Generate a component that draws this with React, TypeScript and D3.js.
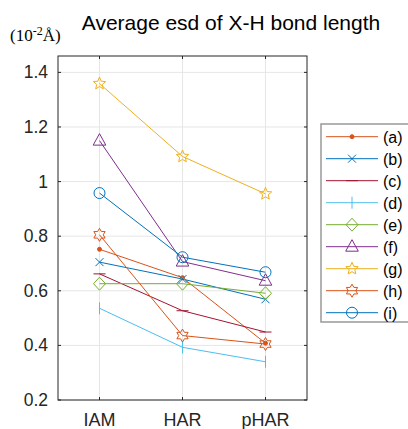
import React, { useRef, useEffect } from 'react';
import * as d3 from 'd3';

const methods = ['IAM', 'HAR', 'pHAR'];
const seriesNames = ['(a)', '(b)', '(c)', '(d)', '(e)', '(f)', '(g)', '(h)', '(i)'];
const seriesA = [0.752, 0.648, 0.408];
const seriesB = [0.705, 0.643, 0.569];
const seriesC = [0.662, 0.527, 0.449];
const seriesD = [0.536, 0.393, 0.340];
const seriesE = [0.626, 0.626, 0.591];
const seriesF = [1.150, 0.707, 0.637];
const seriesG = [1.359, 1.092, 0.955];
const seriesH = [0.805, 0.436, 0.405];
const seriesI = [0.958, 0.723, 0.668];
const yTicks = [0.2, 0.4, 0.6, 0.8, 1, 1.2, 1.4];

const allSeries = [seriesA, seriesB, seriesC, seriesD, seriesE, seriesF, seriesG, seriesH, seriesI];
const colors = ['#D95319', '#0072BD', '#A2142F', '#4DBEEE', '#77AC30', '#7E2F8E', '#EDB120', '#D95319', '#0072BD'];
const markers = ['dot', 'x', 'hline', 'vline', 'diamond', 'triangle', 'pentagram', 'hexagram', 'circle'];

// marker outline centred on 0,0
function markerPath(type: string): string {
  const p = d3.path();
  if (type === 'circle') {
    p.moveTo(5.5, 0);
    p.arc(0, 0, 5.5, 0, Math.PI * 2);
  } else if (type === 'dot') {
    p.moveTo(2, 0);
    p.arc(0, 0, 2, 0, Math.PI * 2);
  } else if (type === 'x') {
    p.moveTo(-4, -4); p.lineTo(4, 4);
    p.moveTo(-4, 4); p.lineTo(4, -4);
  } else if (type === 'hline') {
    p.moveTo(-6, 0); p.lineTo(6, 0);
  } else if (type === 'vline') {
    p.moveTo(0, -6); p.lineTo(0, 6);
  } else if (type === 'diamond') {
    p.moveTo(0, -6.5); p.lineTo(6, 0); p.lineTo(0, 6.5); p.lineTo(-6, 0); p.closePath();
  } else if (type === 'triangle') {
    p.moveTo(0, -7); p.lineTo(6.3, 4.5); p.lineTo(-6.3, 4.5); p.closePath();
  } else {
    const n = type === 'pentagram' ? 5 : 6;
    const ro = 6.5;
    const ri = n === 5 ? ro * 0.45 : ro * 0.58;
    for (let k = 0; k < n * 2; k++) {
      const r = k % 2 === 0 ? ro : ri;
      const a = -Math.PI / 2 + (k * Math.PI) / n;
      if (k === 0) p.moveTo(r * Math.cos(a), r * Math.sin(a));
      else p.lineTo(r * Math.cos(a), r * Math.sin(a));
    }
    p.closePath();
  }
  return p.toString();
}

const App = () => {
  const svgRef = useRef<SVGSVGElement>(null);
  const width = 408;
  const height = 429;

  useEffect(() => {
    if (!svgRef.current) return;
    const svg = d3.select(svgRef.current);
    svg.selectAll('*').remove();

    const left = 58, right = 307, top = 56, bottom = 400;
    const xScale = d3.scalePoint().domain(methods).range([left, right]).padding(0.5);
    const yScale = d3.scaleLinear().domain([0.2, 1.46]).range([bottom, top]);
    const font = 'Liberation Sans, Arial, sans-serif';

    // grid
    svg.append('g').selectAll('line').data(yTicks).enter().append('line')
      .attr('x1', left).attr('x2', right)
      .attr('y1', d => yScale(d)).attr('y2', d => yScale(d))
      .attr('stroke', '#e6e6e6').attr('stroke-width', 1);
    svg.append('g').selectAll('line').data(methods).enter().append('line')
      .attr('x1', d => xScale(d)!).attr('x2', d => xScale(d)!)
      .attr('y1', top).attr('y2', bottom)
      .attr('stroke', '#e6e6e6').attr('stroke-width', 1);

    // box + ticks
    svg.append('rect')
      .attr('x', left).attr('y', top).attr('width', right - left).attr('height', bottom - top)
      .attr('fill', 'none').attr('stroke', '#262626').attr('stroke-width', 1);
    yTicks.forEach(t => {
      svg.append('line').attr('x1', left).attr('x2', left + 3).attr('y1', yScale(t)).attr('y2', yScale(t))
        .attr('stroke', '#262626');
      svg.append('line').attr('x1', right - 3).attr('x2', right).attr('y1', yScale(t)).attr('y2', yScale(t))
        .attr('stroke', '#262626');
      svg.append('text')
        .attr('x', 48).attr('y', yScale(t) + 6)
        .attr('text-anchor', 'end')
        .attr('font-family', font).attr('font-size', 17.5).attr('fill', '#262626')
        .text(String(t));
    });
    methods.forEach(m => {
      svg.append('line').attr('x1', xScale(m)!).attr('x2', xScale(m)!).attr('y1', bottom).attr('y2', bottom - 3)
        .attr('stroke', '#262626');
      svg.append('line').attr('x1', xScale(m)!).attr('x2', xScale(m)!).attr('y1', top).attr('y2', top + 3)
        .attr('stroke', '#262626');
      svg.append('text')
        .attr('x', xScale(m)!).attr('y', 426)
        .attr('text-anchor', 'middle')
        .attr('font-family', font).attr('font-size', 18).attr('fill', '#262626')
        .text(m);
    });

    // title and unit
    svg.append('text')
      .attr('x', 231).attr('y', 30)
      .attr('text-anchor', 'middle')
      .attr('font-family', font).attr('font-size', 21).attr('fill', '#000')
      .text('Average esd of X-H bond length');
    const unit = svg.append('text')
      .attr('x', 10).attr('y', 41)
      .attr('font-family', 'Liberation Serif, Times New Roman, serif').attr('font-size', 17).attr('fill', '#000');
    unit.append('tspan').text('(10');
    unit.append('tspan').attr('dy', -6).attr('font-size', 12).text('-2');
    unit.append('tspan').attr('dy', 6).text('Å)');

    // series
    const line = d3.line<number>()
      .x((d, i) => xScale(methods[i])!)
      .y(d => yScale(d));
    allSeries.forEach((s, si) => {
      svg.append('path')
        .datum(s)
        .attr('fill', 'none')
        .attr('stroke', colors[si])
        .attr('stroke-width', 1)
        .attr('d', line);
      svg.append('g').selectAll('path').data(s).enter().append('path')
        .attr('transform', (d, i) => `translate(${xScale(methods[i])},${yScale(d)})`)
        .attr('d', markerPath(markers[si]))
        .attr('fill', markers[si] === 'dot' ? colors[si] : 'none')
        .attr('stroke', colors[si])
        .attr('stroke-width', 1);
    });

    // legend
    const lg = svg.append('g');
    lg.append('rect')
      .attr('x', 321).attr('y', 124).attr('width', 100).attr('height', 198)
      .attr('fill', '#fff').attr('stroke', '#999').attr('stroke-width', 1.5);
    seriesNames.forEach((name, si) => {
      const yy = 136.7 + si * 22;
      lg.append('line').attr('x1', 326).attr('x2', 378).attr('y1', yy).attr('y2', yy)
        .attr('stroke', colors[si]).attr('stroke-width', 1);
      lg.append('path')
        .attr('transform', `translate(352,${yy})`)
        .attr('d', markerPath(markers[si]))
        .attr('fill', markers[si] === 'dot' ? colors[si] : 'none')
        .attr('stroke', colors[si]);
      lg.append('text')
        .attr('x', 383).attr('y', yy + 6)
        .attr('font-family', font).attr('font-size', 16).attr('fill', '#000')
        .text(name);
    });
  }, []);

  return (
    <svg
      ref={svgRef}
      width={width}
      height={height}
      style={{ position: 'absolute', left: 0, top: 0, background: '#fff' }}
    />
  );
};

export default App;
